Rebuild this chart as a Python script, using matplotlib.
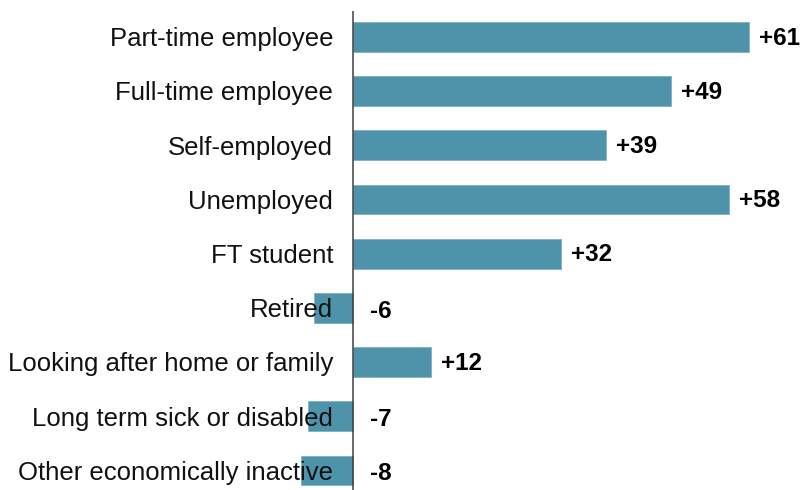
import matplotlib
matplotlib.use("Agg")
import matplotlib.pyplot as plt

categories = ["Part-time employee", "Full-time employee", "Self-employed", "Unemployed",
              "FT student", "Retired", "Looking after home or family",
              "Long term sick or disabled", "Other economically inactive"]
values = [61, 49, 39, 58, 32, -6, 12, -7, -8]
value_labels = ["+61", "+49", "+39", "+58", "+32", "-6", "+12", "-7", "-8"]

plt.rcParams['font.family'] = ['Liberation Sans', 'DejaVu Sans']

W, H = 805, 490
fig = plt.figure(figsize=(W / 100, H / 100), dpi=100)
px_per_unit = 6.49
zero_px = 353
xmin = -10
left_px = zero_px + xmin * px_per_unit
xmax = (W - zero_px) / px_per_unit
top_px, bot_px = 11, 490
ax = fig.add_axes([left_px / W, 1 - bot_px / H, (W - left_px) / W, (bot_px - top_px) / H])

ypos = list(range(len(categories)))
ax.barh(ypos, values, height=0.55, color="#4f93aa", edgecolor="#7fb3c4", linewidth=0.6, zorder=1)
ax.axvline(0, color="#404040", lw=1.1, zorder=2)

cat_fs = 18.5
val_fs = 17.5
cat_cap = 0.716 * cat_fs * 100 / 72
val_cap = 0.716 * val_fs * 100 / 72

for y, cat, v, lab in zip(ypos, categories, values, value_labels):
    ax.annotate(cat, xy=(0, y), xytext=(-20, -cat_cap / 2), textcoords="offset pixels",
                ha="right", va="baseline", fontsize=cat_fs, color="#111111", zorder=4)
    if v >= 0:
        ax.annotate(lab, xy=(v, y), xytext=(10, -val_cap / 2 + 1), textcoords="offset pixels",
                    ha="left", va="baseline", fontsize=val_fs, fontweight="bold", color="black", zorder=4)
    else:
        ax.annotate(lab, xy=(0, y), xytext=(17, -val_cap / 2 - 1), textcoords="offset pixels",
                    ha="left", va="baseline", fontsize=val_fs, fontweight="bold", color="black", zorder=4)

ax.set_xlim(xmin, xmax)
ax.set_ylim(8.36, -0.48)
for s in ax.spines.values():
    s.set_visible(False)
ax.set_xticks([])
ax.set_yticks([])
ax.patch.set_alpha(0)

fig.savefig("out.png", dpi=100)
